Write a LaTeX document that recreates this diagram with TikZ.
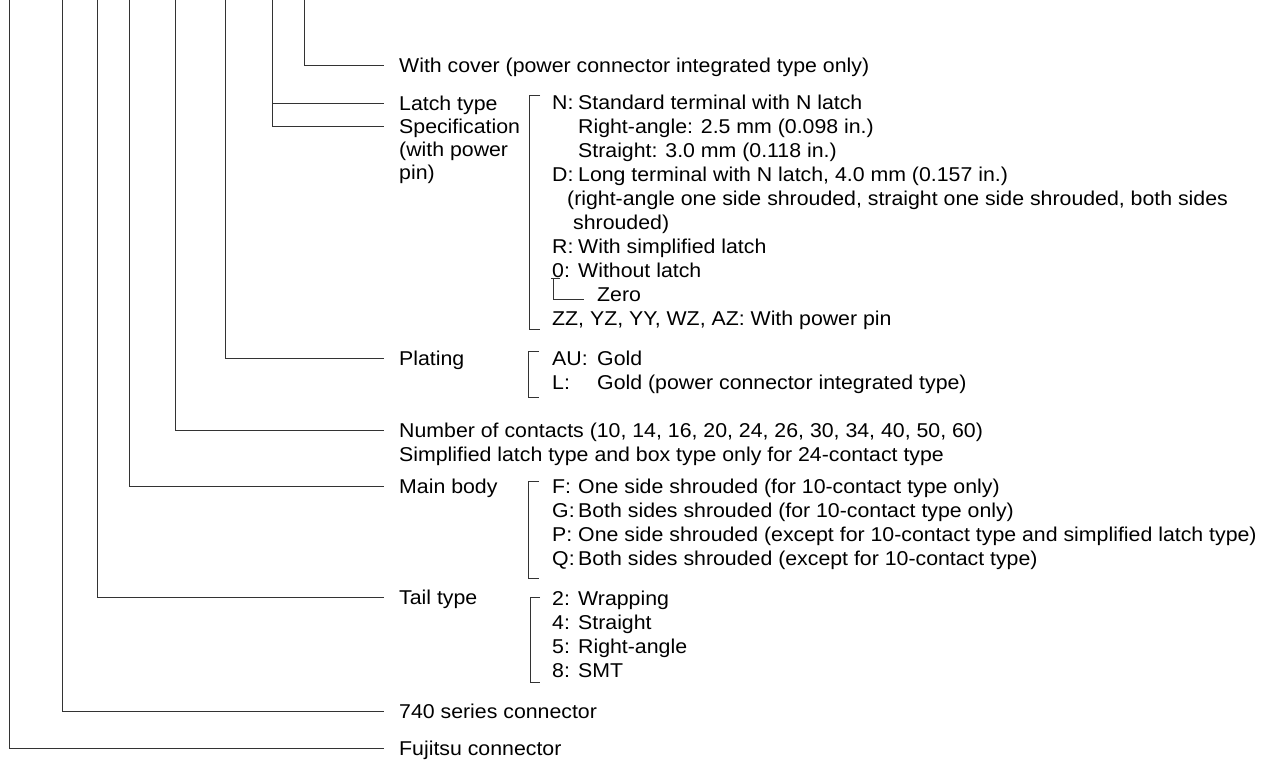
\documentclass[tikz,border=0pt]{standalone}
\usepackage{fontspec}
\setmainfont{Liberation Sans}[FakeStretch=1.065]
\usetikzlibrary{positioning,calc}

\newcommand{\opt}[1]{\makebox[26pt][l]{#1}}
\newcommand{\rows}[1]{\begin{tabular}[t]{@{}l@{}}#1\end{tabular}}

\begin{document}
\begin{tikzpicture}[x=1pt, y=-1pt]
	\tikzstyle{every node}=[inner sep=0pt, anchor=base west, text=black, font=\fontsize{20}{24}\selectfont]
	\tikzstyle{lead}=[draw=black!80, line width=1pt]
	\tikzstyle{brk}=[draw=black!80, line width=1pt]
	\useasboundingbox (0,0) rectangle (1269,761);

	% labels
	\node (cover)    at (399,72)  {With cover (power connector integrated type only)};
	\node (latch)    at (399,110) {Latch type};
	\node (spec)     at (399,133) [font=\fontsize{20}{23.3}\selectfont] {\rows{Specification\\(with power\\pin)}};
	\node (plating)  at (399,365) {Plating};
	\node (contacts) at (399,437) {\rows{Number of contacts (10, 14, 16, 20, 24, 26, 30, 34, 40, 50, 60)\\Simplified latch type and box type only for 24-contact type}};
	\node (body)     at (399,493) {Main body};
	\node (tail)     at (399,604) {Tail type};
	\node (series)   at (399,718) {740 series connector};
	\node (fujitsu)  at (399,755) {Fujitsu connector};

	% options
	\node (latchopt) at (552,109) {\rows{\opt{N:}Standard terminal with N latch\\
		\hspace*{26pt}Right-angle: 2.5 mm (0.098 in.)\\
		\hspace*{26pt}Straight: 3.0 mm (0.118 in.)\\
		\opt{D:}Long terminal with N latch, 4.0 mm (0.157 in.)\\
		\hspace*{15pt}(right-angle one side shrouded, straight one side shrouded, both sides\\
		\hspace*{21pt}shrouded)\\
		\opt{R:}With simplified latch}};
	\node (zero)     at (552,277) {\opt{0:}Without latch};
	\node (zerotxt)  at (597,301) {Zero};
	\node (power)    at (552,325) {ZZ, YZ, YY, WZ, AZ: With power pin};
	\node (platopt)  at (552,365) {\rows{\makebox[45pt][l]{AU:}Gold\\\makebox[45pt][l]{L:}Gold (power connector integrated type)}};
	\node (bodyopt)  at (552,493) {\rows{\opt{F:}One side shrouded (for 10-contact type only)\\
		\opt{G:}Both sides shrouded (for 10-contact type only)\\
		\opt{P:}One side shrouded (except for 10-contact type and simplified latch type)\\
		\opt{Q:}Both sides shrouded (except for 10-contact type)}};
	\node (tailopt)  at (552,605) {\rows{\opt{2:}Wrapping\\\opt{4:}Straight\\\opt{5:}Right-angle\\\opt{8:}SMT}};

	% leader tops
	\coordinate (fujitsutop)  at (9.5,0);
	\coordinate (seriestop)   at (62,0);
	\coordinate (tailtop)     at (97,0);
	\coordinate (bodytop)     at (129,0);
	\coordinate (contactstop) at (175,0);
	\coordinate (platingtop)  at (225,0);
	\coordinate (spectop)     at (272,0);
	\coordinate (covertop)    at (304,0);
	\coordinate (latchend)    at ([xshift=-15pt,yshift=7pt]latch.base west);

	\draw[lead] (covertop) |- ([xshift=-15pt,yshift=7pt]cover.base west);
	\draw[lead] (spectop) |- ([xshift=-15pt,yshift=7pt]spec.base west);
	\draw[lead] (spectop |- latchend) -- (latchend);
	\draw[lead] (platingtop) |- ([xshift=-15pt,yshift=7pt]plating.base west);
	\draw[lead] (contactstop) |- ([xshift=-15pt,yshift=7pt]contacts.base west);
	\draw[lead] (bodytop) |- ([xshift=-15pt,yshift=7pt]body.base west);
	\draw[lead] (tailtop) |- ([xshift=-15pt,yshift=7pt]tail.base west);
	\draw[lead] (seriestop) |- ([xshift=-15pt,yshift=7pt]series.base west);
	\draw[lead] (fujitsutop) |- ([xshift=-15pt,yshift=7pt]fujitsu.base west);

	% zero mark
	\draw[lead] ([xshift=-1pt,yshift=-1.5pt]zero.base west) -- ++(9pt,0);
	\draw[lead] ([xshift=1pt,yshift=-1.5pt]zero.base west) |- ([xshift=-13pt,yshift=2pt]zerotxt.base west);

	% brackets
	\draw[brk] (540,95) -| (529,329) -- (540,329);
	\draw[brk] (539,351) -| (528,397) -- (539,397);
	\draw[brk] (539,481) -| (528,578) -- (539,578);
	\draw[brk] (540,597) -| (530,682) -- (540,682);
\end{tikzpicture}
\end{document}
